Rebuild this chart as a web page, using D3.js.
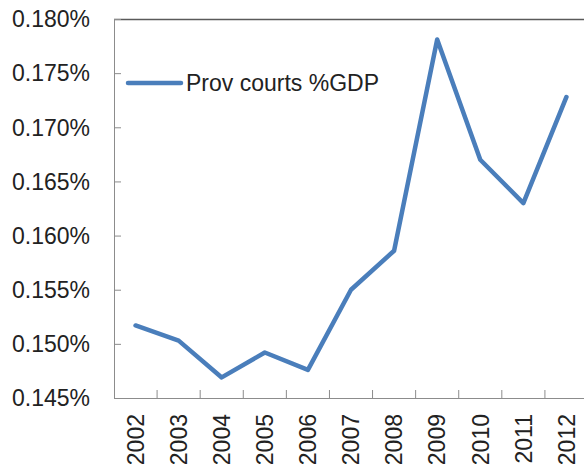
<!DOCTYPE html>
<html lang="en">
<head>
<meta charset="UTF-8">
<title>Prov courts %GDP</title>
<script src="https://d3js.org/d3.v7.min.js"></script>
<style>
  body { margin: 0; background: #fff; }
  svg text { font-family: "Liberation Sans", Arial, sans-serif; fill: #222; }
</style>
</head>
<body>
<script>
// data (values are already in percent)
const years = ["2002", "2003", "2004", "2005", "2006", "2007", "2008", "2009", "2010", "2011", "2012"];
const provCourts = [0.1517, 0.1503, 0.1469, 0.1492, 0.1476, 0.1550, 0.1586, 0.1781, 0.1670, 0.1630, 0.1728];
const yTicks = [0.145, 0.150, 0.155, 0.160, 0.165, 0.170, 0.175, 0.180];
const seriesName = "Prov courts %GDP";

const width = 584, height = 473;
const plotLeft = 114, plotTop = 19, plotBottom = 398, plotRight = 588;

const svg = d3.select("body").append("svg")
    .attr("width", width)
    .attr("height", height);

const x = d3.scaleBand().domain(years).range([plotLeft, plotRight]);
const y = d3.scaleLinear().domain([0.145, 0.180]).range([plotBottom, plotTop]);

// top border
svg.append("line")
    .attr("x1", plotLeft).attr("x2", width)
    .attr("y1", plotTop + 0.5).attr("y2", plotTop + 0.5)
    .attr("stroke", "#5a5a5a").attr("stroke-width", 1.5);

// y axis
const yAxis = svg.append("g")
    .attr("transform", `translate(${plotLeft},0)`)
    .call(d3.axisRight(y).tickValues(yTicks).tickSize(7).tickFormat(""));
yAxis.select(".domain").attr("stroke", "#8c8c8c");
yAxis.selectAll(".tick line").attr("stroke", "#8c8c8c");

svg.append("g").selectAll("text")
    .data(yTicks)
    .join("text")
    .attr("x", 90)
    .attr("y", d => y(d))
    .attr("dy", "0.36em")
    .attr("text-anchor", "end")
    .style("font-size", "23px")
    .text(d => d.toFixed(3) + "%");

// x axis
const xAxis = svg.append("g")
    .attr("transform", `translate(0,${plotBottom})`)
    .call(d3.axisTop(x).tickSize(0).tickFormat(""));
xAxis.select(".domain").attr("stroke", "#8c8c8c");

svg.append("g").selectAll("line")
    .data(years.slice(1))
    .join("line")
    .attr("x1", d => x(d)).attr("x2", d => x(d))
    .attr("y1", plotBottom).attr("y2", plotBottom - 8)
    .attr("stroke", "#8c8c8c");

svg.append("g").selectAll("text")
    .data(years)
    .join("text")
    .attr("transform", d => `translate(${x(d) + x.bandwidth() / 2},414) rotate(-90)`)
    .attr("dy", "0.36em")
    .attr("text-anchor", "end")
    .style("font-size", "23px")
    .text(d => d);

// series line
const line = d3.line()
    .x((d, i) => x(years[i]) + x.bandwidth() / 2)
    .y(d => y(d));

svg.append("path")
    .datum(provCourts)
    .attr("fill", "none")
    .attr("stroke", "#4a7ebb")
    .attr("stroke-width", 4.5)
    .attr("stroke-linejoin", "round")
    .attr("stroke-linecap", "round")
    .attr("d", line);

// legend
svg.append("line")
    .attr("x1", 128).attr("x2", 181)
    .attr("y1", 83).attr("y2", 83)
    .attr("stroke", "#4a7ebb")
    .attr("stroke-width", 4.5)
    .attr("stroke-linecap", "round");

svg.append("text")
    .attr("x", 186)
    .attr("y", 83)
    .attr("dy", "0.36em")
    .style("font-size", "23px")
    .text(seriesName);
</script>
</body>
</html>
